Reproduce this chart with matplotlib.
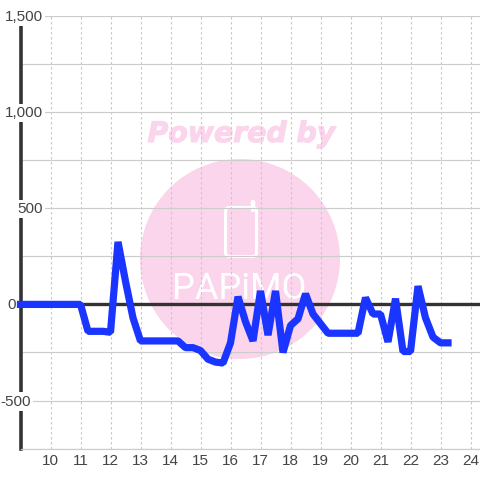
import matplotlib.pyplot as plt
import matplotlib.patheffects as pe
from matplotlib.patches import Circle, FancyBboxPatch

plt.rcParams['font.family'] = ['Liberation Sans', 'DejaVu Sans']

hours = [9, 9.25, 9.5, 9.75, 10, 10.25, 10.5, 10.75, 11, 11.25, 11.5, 11.75, 12, 12.25, 12.5, 12.75,
         13, 13.25, 13.5, 13.75, 14, 14.25, 14.5, 14.75, 15, 15.25, 15.5, 15.75, 16, 16.25, 16.5, 16.75,
         17, 17.25, 17.5, 17.75, 18, 18.25, 18.5, 18.75, 19, 19.25, 19.5, 19.75, 20, 20.25, 20.5, 20.75,
         21, 21.25, 21.5, 21.75, 22, 22.25, 22.5, 22.75, 23, 23.25]
values = [0, 0, 0, 0, 0, 0, 0, 0, 0, -140, -140, -140, -145, 325, 120, -70,
          -190, -190, -190, -190, -190, -190, -225, -225, -240, -285, -300, -305, -200, 40, -90, -190,
          70, -160, 70, -250, -110, -75, 55, -50, -100, -150, -150, -150, -150, -150, 35, -50,
          -50, -195, 30, -245, -245, 95, -70, -170, -200, -200]

x_ticks = list(range(10, 25))
y_labels = {1500: "1,500", 1000: "1,000", 500: "500", 0: "0", -500: "-500"}
y_label_right = {1500: 43, 1000: 43, 500: 43, 0: 16, -500: 31}  # label right edges, px

W = 480
fig = plt.figure(figsize=(4.8, 4.8), dpi=100, facecolor="white")
ax = fig.add_axes([20.5 / W, 1 - 448.6 / W, 1 - 20.5 / W, (448.6 - 16) / W], facecolor="none")
ax.set_xlim(9, 9 + 459.5 / 30)
ax.set_ylim(-750, 1500)


def fx(px):
    return px / W


def fy(py):
    return 1 - py / W


# watermark behind the chart
pink = "#fbd5ec"
fig.patches.append(Circle((240, W - 259), 100, transform=None, facecolor=pink, edgecolor="none", zorder=-5))
fig.patches.append(FancyBboxPatch((225.5, W - 256.5), 31, 49, boxstyle="round,pad=0,rounding_size=4", transform=None,
                                  facecolor="none", edgecolor="white", linewidth=2.2, zorder=-4))
fig.lines.append(plt.Line2D([fx(253.5), fx(253.5)], [fy(210), fy(202)], transform=fig.transFigure, color="white",
                            linewidth=3.2, solid_capstyle="round", zorder=-4))
fig.text(fx(241.5), fy(134), "Powered by", color=pink, fontsize=20.4, fontweight="bold", fontstyle="italic",
         ha="center", va="center", family="DejaVu Sans", zorder=-4,
         path_effects=[pe.withStroke(linewidth=0.8, foreground=pink)])
fig.text(fx(239), fy(289), "PAPiMO", color="white", fontsize=26, family="Roboto", fontweight="normal",
         ha="center", va="center", zorder=-4)

ax.set_yticks(list(range(-750, 1501, 250)))
ax.set_xticks(x_ticks)
ax.set_xticklabels([str(x) for x in x_ticks])
ax.set_yticklabels([])
ax.grid(True, axis="y", color="#cccccc", linewidth=0.85)
ax.grid(True, axis="x", color="#c8c8c8", linewidth=0.8, linestyle=(0, (2.2, 2.3)))
ax.tick_params(axis="both", length=0)
ax.tick_params(axis="x", labelsize=11, labelcolor="#444444", pad=4)
ax.set_axisbelow(True)
for s in ["top", "right"]:
    ax.spines[s].set_visible(False)
ax.spines["bottom"].set_color("#cccccc")
ax.spines["bottom"].set_linewidth(0.85)
ax.spines["left"].set_color("#333333")
ax.spines["left"].set_linewidth(2.6)

ax.axhline(0, color="#333333", linewidth=2.4, zorder=2)
ax.plot(hours, values, color="#1a35ff", linewidth=5.2, solid_joinstyle="bevel", solid_capstyle="projecting",
        clip_on=False, zorder=3)

for v, lab in y_labels.items():
    ax.annotate(lab, xy=(0, v), xycoords=("axes fraction", "data"),
                xytext=(fx(y_label_right[v]) * W - 20.5, -1), textcoords="offset pixels",
                ha="right", va="center", fontsize=11, color="#444444", annotation_clip=False, zorder=5,
                bbox=dict(facecolor="white", edgecolor="none", pad=1.5) if v != 0 else None)

fig.savefig("out.png", dpi=100)
